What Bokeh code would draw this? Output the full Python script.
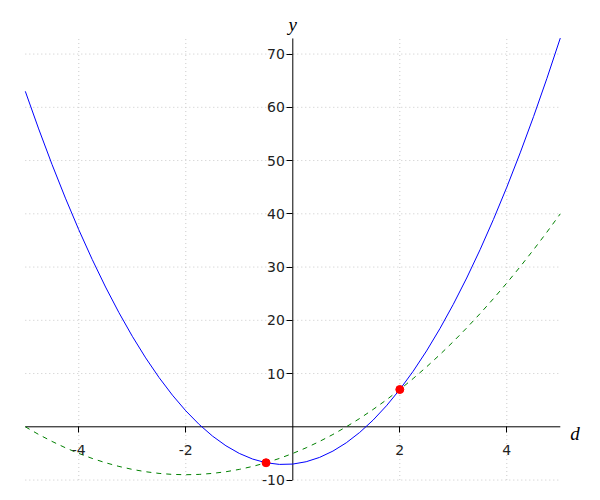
from bokeh.plotting import figure
from bokeh.models import FixedTicker, Label, Range1d
from bokeh.embed import file_html
from bokeh.resources import INLINE

# sample positions along d
d_vals = [-5.0, -4.75, -4.5, -4.25, -4.0, -3.75, -3.5, -3.25, -3.0, -2.75, -2.5,
          -2.25, -2.0, -1.75, -1.5, -1.25, -1.0, -0.75, -0.5, -0.25, 0.0,
          0.25, 0.5, 0.75, 1.0, 1.25, 1.5, 1.75, 2.0, 2.25, 2.5, 2.75, 3.0,
          3.25, 3.5, 3.75, 4.0, 4.25, 4.5, 4.75, 5.0]

# blue solid curve
blue_y = [63.0, 55.94, 49.25, 42.94, 37.0, 31.44, 26.25, 21.44, 17.0, 12.94, 9.25,
          5.94, 3.0, 0.44, -1.75, -3.56, -5.0, -6.06, -6.75, -7.06, -7.0,
          -6.56, -5.75, -4.56, -3.0, -1.06, 1.25, 3.94, 7.0, 10.44, 14.25, 18.44, 23.0,
          27.94, 33.25, 38.94, 45.0, 51.44, 58.25, 65.44, 73.0]

# green dashed curve
green_y = [0.0, -1.44, -2.75, -3.94, -5.0, -5.94, -6.75, -7.44, -8.0, -8.44, -8.75,
           -8.94, -9.0, -8.94, -8.75, -8.44, -8.0, -7.44, -6.75, -5.94, -5.0,
           -3.94, -2.75, -1.44, 0.0, 1.56, 3.25, 5.06, 7.0, 9.06, 11.25, 13.56, 16.0,
           18.56, 21.25, 24.06, 27.0, 30.06, 33.25, 36.56, 40.0]

# intersection points
pts_x = [-0.5, 2.0]
pts_y = [-6.75, 7.0]

x_ticks = [-4, -2, 2, 4]
y_ticks = [-10, 10, 20, 30, 40, 50, 60, 70]
x_tick_labels = ["-4", "-2", "2", "4"]
y_tick_labels = ["-10", "10", "20", "30", "40", "50", "60", "70"]

# plotted extent of the view box
x_lo, x_hi = -5.0, 5.0
y_lo, y_hi = -10.0, 72.93

# layout: pixel mapping (frame covers the whole canvas)
W, H = 600, 500
px_per_x = 53.5
px_per_y = 5.325
x0_px = 292.3   # pixel column of d = 0
y0_px = 426.3   # pixel row of y = 0
xr = Range1d(-x0_px / px_per_x, (W - x0_px) / px_per_x)
yr = Range1d(-(H - y0_px) / px_per_y, y0_px / px_per_y)

p = figure(width=W, height=H, output_backend="svg", toolbar_location=None,
           x_range=xr, y_range=yr,
           min_border_left=0, min_border_right=0, min_border_top=0, min_border_bottom=0)
p.outline_line_color = None
p.background_fill_color = "white"
p.border_fill_color = "white"
p.grid.visible = False

for ax, ticks, labels, so in ((p.xaxis, x_ticks, x_tick_labels, 12),
                              (p.yaxis, y_ticks, y_tick_labels, 2)):
    ax.fixed_location = 0
    ax.ticker = FixedTicker(ticks=ticks)
    ax.major_label_overrides = {t: s for t, s in zip(ticks, labels)}
    ax.minor_tick_line_color = None
    ax.major_tick_in = 0
    ax.major_tick_out = 6
    ax.axis_line_color = None
    ax.major_tick_line_color = "black"
    ax.major_label_text_font = "DejaVu Sans"
    ax.major_label_text_font_size = "14px"
    ax.major_label_text_color = "#222222"
    ax.major_label_standoff = so

# dotted grid inside the view box
p.segment(x0=x_ticks, y0=[y_lo] * len(x_ticks), x1=x_ticks, y1=[y_hi] * len(x_ticks),
          line_color="#c8c8c8", line_width=1, line_dash="1 3")
p.segment(x0=[x_lo] * len(y_ticks), y0=y_ticks, x1=[x_hi] * len(y_ticks), y1=y_ticks,
          line_color="#c8c8c8", line_width=1, line_dash="1 3")

# axis lines through the origin
p.segment(x0=[x_lo, 0], y0=[0, y_lo], x1=[x_hi, 0], y1=[0, y_hi],
          line_color="black", line_width=1)

p.line(d_vals, green_y, line_color="#008000", line_width=1, line_dash="5 5")
p.line(d_vals, blue_y, line_color="blue", line_width=1)
p.scatter(pts_x, pts_y, size=8, fill_color="red", line_color="red")

p.add_layout(Label(x=0, y=y_hi, y_offset=14, text="y", text_align="center",
                   text_baseline="alphabetic", text_font="Liberation Serif",
                   text_font_style="italic", text_font_size="19px", text_color="black"))
p.add_layout(Label(x=x_hi, y=0, x_offset=10, y_offset=-7, text="d", text_align="left",
                   text_baseline="alphabetic", text_font="Liberation Serif",
                   text_font_style="italic", text_font_size="19px", text_color="black"))

open("out.html", "w").write(file_html(p, INLINE))
